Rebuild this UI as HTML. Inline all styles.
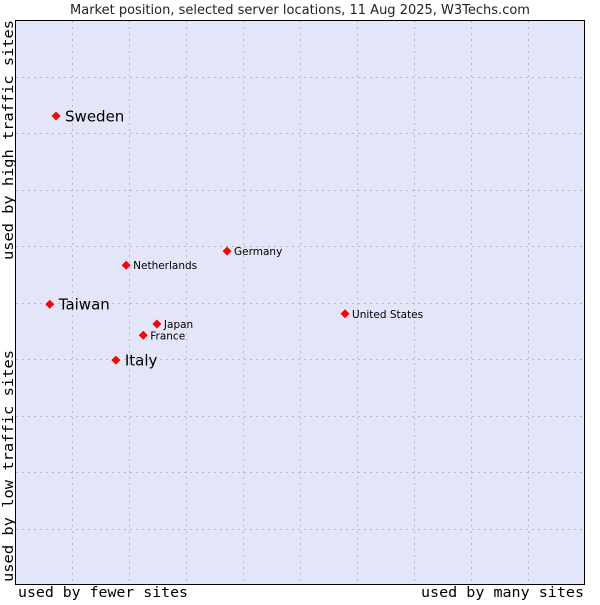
<!DOCTYPE html>
<html><head><meta charset="utf-8"><style>
body{margin:0;background:#fff;}
svg text{font-family:"DejaVu Sans","Liberation Sans",sans-serif;}
.mono{font-family:"DejaVu Sans Mono","Liberation Mono",monospace !important;font-size:14px;fill:#000;}
</style></head><body>
<svg id="chart" width="600" height="600" xmlns="http://www.w3.org/2000/svg">
<text x="300" y="14" text-anchor="middle" font-size="13" fill="#222">Market position, selected server locations, 11 Aug 2025, W3Techs.com</text>
<rect x="15.5" y="20.5" width="569" height="564" fill="#e3e5f8" stroke="#000"/>
<g id="grid"></g>
<g id="points"></g>
<text class="mono" x="18" y="597" textLength="170" lengthAdjust="spacingAndGlyphs">used by fewer sites</text>
<text class="mono" x="421" y="597" textLength="163" lengthAdjust="spacingAndGlyphs">used by many sites</text>
<text class="mono" transform="translate(13,260) rotate(-90)" textLength="240" lengthAdjust="spacingAndGlyphs">used by high traffic sites</text>
<text class="mono" transform="translate(13,582) rotate(-90)" textLength="232" lengthAdjust="spacingAndGlyphs">used by low traffic sites</text>
</svg>
<script>
const countries=["Sweden","Taiwan","Italy","Netherlands","Germany","Japan","France","United States"];
const xValues=[0.72,0.61,1.77,1.95,3.72,2.49,2.25,5.79];
const yValues=[8.30,4.97,3.98,5.66,5.91,4.62,4.42,4.80];
const bigLabel=[true,true,true,false,false,false,false,false];
const x0=15,x1=585,y0=585,y1=20;
function sx(v){return x0+(x1-x0)*v/10;}
function sy(v){return y0-(y0-y1)*v/10;}
const NS="http://www.w3.org/2000/svg";
const grid=document.getElementById('grid');
for(let i=1;i<10;i++){
  const v=document.createElementNS(NS,'line');
  v.setAttribute('x1',Math.round(sx(i))+0.5);v.setAttribute('x2',Math.round(sx(i))+0.5);
  v.setAttribute('y1',21);v.setAttribute('y2',584);
  v.setAttribute('stroke','#bbb');v.setAttribute('stroke-dasharray','2,4');
  
  
  grid.appendChild(v);
  const h=document.createElementNS(NS,'line');
  h.setAttribute('y1',Math.round(sy(i))+0.5);h.setAttribute('y2',Math.round(sy(i))+0.5);
  h.setAttribute('x1',16);h.setAttribute('x2',584);
  h.setAttribute('stroke','#bbb');h.setAttribute('stroke-dasharray','2,4');
  
  
  grid.appendChild(h);
}
const pts=document.getElementById('points');
countries.forEach((c,i)=>{
  const cx=sx(xValues[i]),cy=sy(yValues[i]);
  const d=document.createElementNS(NS,'path');
  d.setAttribute('d',`M${cx-4.5},${cy} L${cx},${cy-4.5} L${cx+4.5},${cy} L${cx},${cy+4.5} Z`);
  d.setAttribute('fill','#f00');
  
  
  pts.appendChild(d);
  const t=document.createElementNS(NS,'text');
  const big=bigLabel[i];
  t.setAttribute('x',cx+(big?9:7));
  t.setAttribute('y',cy+(big?5.5:4));
  t.setAttribute('font-size',big?15:10.5);
  t.setAttribute('fill','#000');
  t.textContent=c;
  
  
  pts.appendChild(t);
});
</script>
</body></html>
